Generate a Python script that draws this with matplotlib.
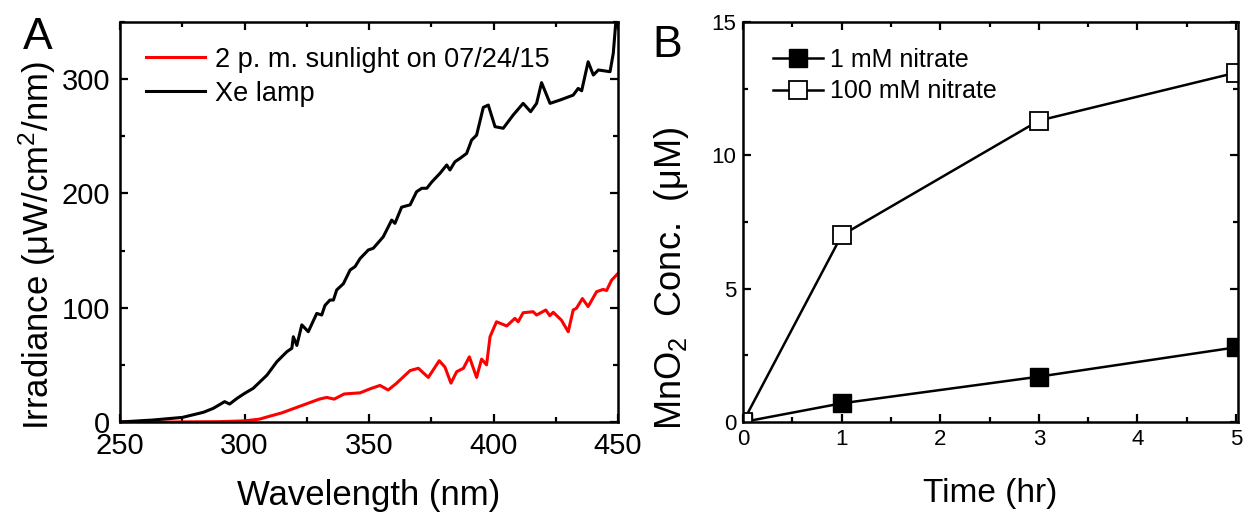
import matplotlib
matplotlib.use("Agg")
import matplotlib.pyplot as plt
from matplotlib.ticker import MultipleLocator

plt.rcParams['font.family'] = ['Liberation Sans', 'DejaVu Sans']
plt.rcParams['mathtext.fontset'] = 'custom'
plt.rcParams['mathtext.rm'] = 'Liberation Sans'
plt.rcParams['mathtext.it'] = 'Liberation Sans:italic'

# panel A - irradiance spectra
xe_wl = [250, 263, 275, 283.5, 287.5, 292, 294, 297, 300, 303.5, 309, 313, 317, 319,
         319.6, 321, 323, 325.6, 329, 331, 332.3, 334.3, 335.7, 337, 339.7, 342.4,
         344.4, 346.4, 349.7, 351.7, 355.7, 359.1, 360.4, 363.1, 366.5, 369.1, 371.2,
         373.2, 375.2, 378.5, 381.2, 382.5, 384.5, 386.5, 389.2, 391.2, 393.2, 395.9,
         397.9, 400.6, 403.9, 407.9, 411.9, 414.9, 417.3, 419.3, 422.7, 426.7, 432,
         434, 435.4, 438, 440.1, 442.1, 446.8, 448.1, 449.5, 450]
xe_irr = [0, 1.7, 4, 8.5, 12, 17.8, 15.7, 20.7, 25, 29.5, 41, 52.8, 61.5, 64.5,
          74.6, 67, 85, 79, 95, 93.6, 102, 106.7, 106.7, 115.5, 121, 133,
          136, 143, 150.5, 152, 162, 176.7, 173.8, 188, 190, 201.5, 204.5,
          204.5, 210, 217.6, 224.9, 220.5, 227.7, 230.6, 235, 246.7, 251, 275.3,
          277.3, 258.4, 257, 268.6, 278.8, 271.5, 278.8, 296.9, 278.8, 281.7, 286,
          291.9, 289.8, 315.2, 303.6, 308, 306.5, 322.6, 360, 420]

sun_wl = [250, 270, 290, 300, 306, 310, 315, 320, 325, 330, 333, 336, 340, 343, 346.4,
          350.4, 354.4, 357.7, 361, 366.5, 369.8, 373.8, 378.2, 380.5, 382.9, 385.2,
          387.9, 390.3, 393.2, 395.2, 397.2, 398.6, 401.2, 405.3, 408.6, 409.9, 411.9,
          415.9, 417.3, 421, 422.6, 424, 427.3, 430, 432, 433.3, 435.7, 438, 441.4,
          444, 445.4, 447.4, 450]
sun_irr = [0, 0, 0.3, 1, 2.5, 5, 8, 12, 16, 20, 21.5, 20, 24.5, 25, 25.5,
           29, 32, 28, 33.8, 45, 47, 39, 53.6, 48, 34, 44,
           47, 57, 39, 55, 50, 74.6, 87.7, 84, 90.7, 87.7, 95.6,
           96.5, 93.6, 98, 93, 96, 89, 79, 98, 99.5, 108, 101, 114,
           116, 115, 124, 130]

# panel B - MnO2 concentration
time_hr = [0, 1, 3, 5]
mno2_1mM = [0, 0.7, 1.7, 2.8]
mno2_100mM = [0, 7.0, 11.3, 13.1]

fig = plt.figure(figsize=(12.48, 5.15), dpi=100)
axA = fig.add_axes([0.0962, 0.1806, 0.399, 0.7767])
axB = fig.add_axes([0.5954, 0.1806, 0.3966, 0.7767])

def style(ax, size, pad):
    for s in ax.spines.values():
        s.set_linewidth(1.8)
    ax.tick_params(which='both', direction='in', top=True, right=True,
                   width=1.6, labelsize=size)
    ax.tick_params(which='major', length=6, pad=pad)
    ax.tick_params(which='minor', length=3.5)

# ---- A
axA.plot(sun_wl, sun_irr, color='#ff0000', lw=2.2, label='2 p. m. sunlight on 07/24/15')
axA.plot(xe_wl, xe_irr, color='black', lw=2.2, label='Xe lamp')
axA.set_xlim(250, 450)
axA.set_ylim(0, 350)
axA.xaxis.set_major_locator(MultipleLocator(50))
axA.xaxis.set_minor_locator(MultipleLocator(25))
axA.yaxis.set_major_locator(MultipleLocator(100))
axA.yaxis.set_minor_locator(MultipleLocator(50))
style(axA, 21, 7)
axA.set_xlabel('Wavelength (nm)', fontsize=25, labelpad=14)
axA.set_ylabel('Irradiance (μW/cm$^2$/nm)', fontsize=25)
axA.yaxis.set_label_coords(-0.125, 0.44)
axA.legend(loc='upper left', frameon=False, fontsize=19.5, handlelength=2.2,
           handletextpad=0.35, labelspacing=0.3, borderaxespad=0.0,
           bbox_to_anchor=(0.03, 0.965))
fig.text(0.018, 0.905, 'A', fontsize=32)

# ---- B
axB.plot(time_hr, mno2_1mM, color='black', lw=1.8, marker='s', ms=13,
         mfc='black', mec='black', label='1 mM nitrate')
axB.plot(time_hr, mno2_100mM, color='black', lw=1.8, marker='s', ms=13,
         mfc='white', mec='black', mew=1.3, label='100 mM nitrate')
axB.set_xlim(0, 5.02)
axB.set_ylim(0, 15)
axB.xaxis.set_major_locator(MultipleLocator(1))
axB.xaxis.set_minor_locator(MultipleLocator(0.5))
axB.yaxis.set_major_locator(MultipleLocator(5))
axB.yaxis.set_minor_locator(MultipleLocator(2.5))
style(axB, 16, 5)
axB.set_xlabel('Time (hr)', fontsize=24, labelpad=20)
axB.set_ylabel('MnO$_2$  Conc.  (μM)', fontsize=26)
axB.yaxis.set_label_coords(-0.105, 0.36)
axB.legend(loc='upper left', frameon=False, fontsize=18, handlelength=2.0,
           handletextpad=0.3, labelspacing=0.3, borderaxespad=0.0,
           bbox_to_anchor=(0.04, 0.96))
fig.text(0.523, 0.89, 'B', fontsize=32)

fig.savefig('out.png', dpi=100)
